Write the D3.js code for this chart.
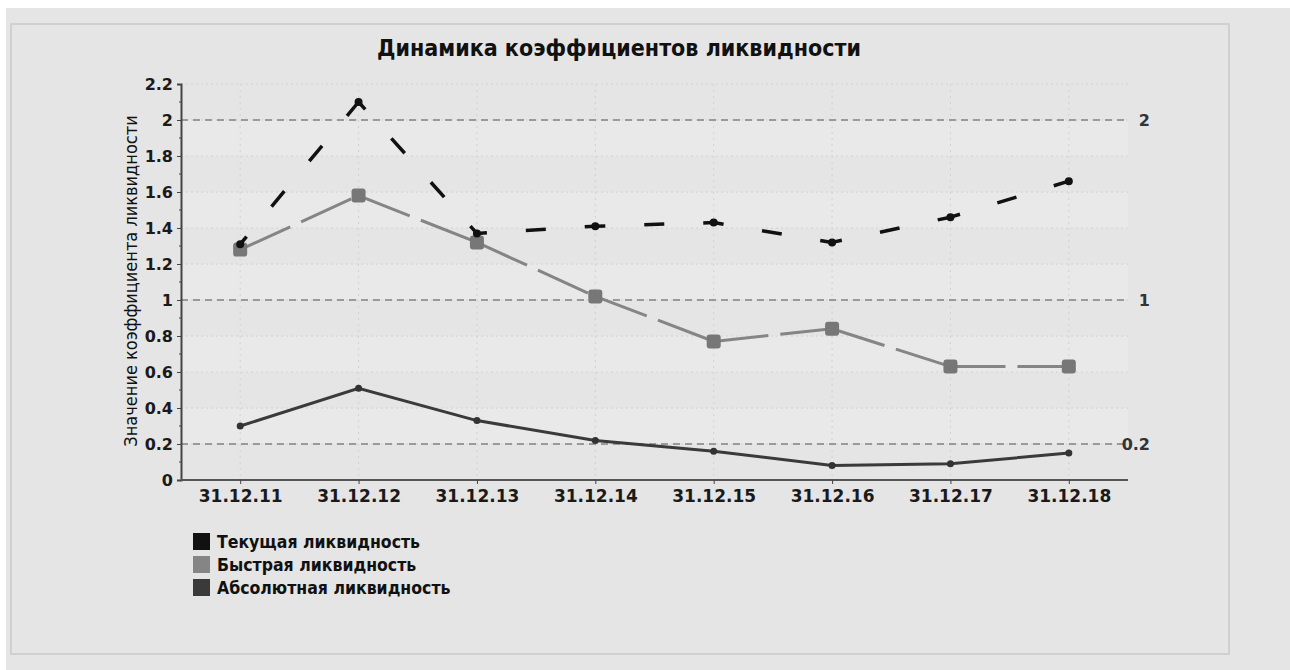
<!DOCTYPE html>
<html><head><meta charset="utf-8">
<script src="https://cdn.jsdelivr.net/npm/d3@7"></script>
<style>
html,body{margin:0;padding:0;background:#fff;}
svg{display:block;}
</style></head>
<body>
<script>
const categories = ["31.12.11","31.12.12","31.12.13","31.12.14","31.12.15","31.12.16","31.12.17","31.12.18"];
const currentLiq = [1.31, 2.10, 1.37, 1.41, 1.43, 1.32, 1.46, 1.66];
const quickLiq   = [1.28, 1.58, 1.32, 1.02, 0.77, 0.84, 0.63, 0.63];
const absoluteLiq= [0.30, 0.51, 0.33, 0.22, 0.16, 0.08, 0.09, 0.15];
const seriesNames = ["Текущая ликвидность","Быстрая ликвидность","Абсолютная ликвидность"];
const yTicks = [0,0.2,0.4,0.6,0.8,1,1.2,1.4,1.6,1.8,2,2.2];
const refLines = [2,1,0.2];
const refLabels = ["2","1","0.2"];
const bands = [[1.8,2.0],[1.4,1.6],[1.0,1.2],[0.6,0.8],[0.2,0.4]];
const chartTitle = "Динамика коэффициентов ликвидности";
const yTitle = "Значение коэффициента ликвидности";

(function(){
const W = 1290, H = 670;
const svg = d3.select("body").append("svg").attr("width", W).attr("height", H);
svg.append("rect").attr("x",6).attr("y",8).attr("width",W-6).attr("height",H-8).attr("fill","#e5e5e5");
svg.append("rect").attr("x",11).attr("y",24).attr("width",1218).attr("height",630)
  .attr("fill","#e5e5e5").attr("stroke","#d0d0d0").attr("stroke-width",2);

const pL = 181, pR = 1128, pT = 84, pB = 480;
const x = d3.scalePoint().domain(categories).range([pL,pR]).padding(0.5);
const y = d3.scaleLinear().domain([0,2.2]).range([pB,pT]);

svg.append("g").selectAll("rect").data(bands).join("rect")
  .attr("x",pL).attr("width",pR-pL)
  .attr("y",d=>y(d[1])).attr("height",d=>y(d[0])-y(d[1]))
  .attr("fill","#e9e9e9");

svg.append("g").selectAll("line").data(yTicks.filter(t=>t>0)).join("line")
  .attr("x1",pL).attr("x2",pR).attr("y1",d=>y(d)).attr("y2",d=>y(d))
  .attr("stroke","#d2d2d2").attr("stroke-width",1).attr("stroke-dasharray","2,3");
svg.append("g").selectAll("line").data(categories).join("line")
  .attr("x1",d=>x(d)).attr("x2",d=>x(d)).attr("y1",pT).attr("y2",pB)
  .attr("stroke","#d2d2d2").attr("stroke-width",1).attr("stroke-dasharray","2,4");
svg.append("g").selectAll("line").data(refLines).join("line")
  .attr("x1",pL).attr("x2",pR).attr("y1",d=>y(d)).attr("y2",d=>y(d))
  .attr("stroke","#9a9a9a").attr("stroke-width",2).attr("stroke-dasharray","7,5");
svg.append("g").selectAll("text").data(refLines).join("text")
  .attr("x",1150).attr("y",d=>y(d)+6).attr("text-anchor","end")
  .attr("font-family","DejaVu Sans").attr("font-weight","bold").attr("font-size",16).attr("fill","#333")
  .text((d,i)=>refLabels[i]);

const yAxis = d3.axisLeft(y).tickValues(yTicks).tickFormat(d=>String(d)).tickSize(4).tickPadding(4);
const gy = svg.append("g").attr("transform",`translate(${pL},0)`).call(yAxis);
gy.select(".domain").attr("stroke","#444").attr("stroke-width",2);
gy.selectAll(".tick line").attr("stroke","#444");
gy.selectAll("text").attr("font-family","DejaVu Sans").attr("font-weight","bold").attr("font-size",16).attr("fill","#1a1a1a");
const minor = d3.range(1,22,2).map(v=>v/10);
gy.append("g").selectAll("line").data(minor).join("line")
  .attr("x1",-2).attr("x2",0).attr("y1",d=>y(d)).attr("y2",d=>y(d)).attr("stroke","#444");

const xAxis = d3.axisBottom(x).tickSize(4).tickPadding(6);
const gx = svg.append("g").attr("transform",`translate(0,${pB})`).call(xAxis);
gx.select(".domain").attr("stroke","#555").attr("stroke-width",2).attr("d",`M${pL},0H${pR}`);
gx.selectAll(".tick line").attr("stroke","#444");
gx.selectAll("text").attr("font-family","DejaVu Sans").attr("font-weight","bold").attr("font-size",17).attr("fill","#1a1a1a");

svg.append("text").attr("x",619).attr("y",56).attr("text-anchor","middle")
  .attr("font-family","DejaVu Sans Condensed, DejaVu Sans").attr("font-size",23).attr("font-weight","bold").attr("fill","#111")
  .text(chartTitle);
svg.append("text").attr("transform",`translate(137,281) rotate(-90)`).attr("text-anchor","middle")
  .attr("font-family","DejaVu Sans Condensed, DejaVu Sans").attr("font-size",18).attr("fill","#111")
  .text(yTitle);

function segs(vals){ return vals.slice(1).map((v,i)=>({x1:x(categories[i]),y1:y(vals[i]),x2:x(categories[i+1]),y2:y(v)})); }
const g = svg.append("g");
g.append("g").selectAll("line").data(segs(quickLiq)).join("line")
  .attr("x1",d=>d.x1).attr("y1",d=>d.y1).attr("x2",d=>d.x2).attr("y2",d=>d.y2)
  .attr("stroke","#858585").attr("stroke-width",3).attr("stroke-dasharray","55,12");
g.append("g").selectAll("rect").data(quickLiq).join("rect")
  .attr("x",(d,i)=>x(categories[i])-7).attr("y",d=>y(d)-7).attr("width",14).attr("height",14)
  .attr("rx",3).attr("fill","#777");
g.append("path").datum(absoluteLiq)
  .attr("d",d3.line().x((d,i)=>x(categories[i])).y(d=>y(d)))
  .attr("fill","none").attr("stroke","#3a3a3a").attr("stroke-width",3);
g.append("g").selectAll("circle").data(absoluteLiq).join("circle")
  .attr("cx",(d,i)=>x(categories[i])).attr("cy",d=>y(d)).attr("r",3.5).attr("fill","#333");
g.append("g").selectAll("line").data(segs(currentLiq)).join("line")
  .attr("x1",d=>d.x1).attr("y1",d=>d.y1).attr("x2",d=>d.x2).attr("y2",d=>d.y2)
  .attr("stroke","#111").attr("stroke-width",3.5).attr("stroke-dasharray","20,39").attr("stroke-dashoffset",10);
g.append("g").selectAll("circle").data(currentLiq).join("circle")
  .attr("cx",(d,i)=>x(categories[i])).attr("cy",d=>y(d)).attr("r",4).attr("fill","#111");

const legColors = ["#111","#858585","#3a3a3a"];
const lg = svg.append("g");
seriesNames.forEach((n,i)=>{
  lg.append("rect").attr("x",193).attr("y",533+i*23).attr("width",17).attr("height",17).attr("fill",legColors[i]);
  lg.append("text").attr("x",217).attr("y",548+i*23).attr("font-family","DejaVu Sans Condensed, DejaVu Sans")
    .attr("font-size",17.5).attr("font-weight","bold").attr("fill","#111").text(n);
});
})();
</script>
</body></html>
